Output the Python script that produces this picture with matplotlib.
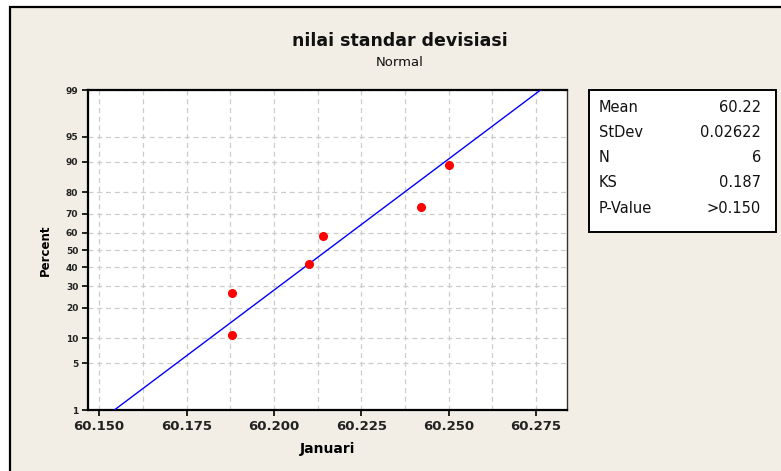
from statistics import NormalDist

import matplotlib
matplotlib.use("Agg")
import matplotlib.pyplot as plt
import numpy as np
from matplotlib.patches import Rectangle

# data
januari = [60.188, 60.188, 60.210, 60.214, 60.242, 60.250]
percent = [10.9, 26.6, 42.2, 57.8, 73.4, 89.1]

y_ticks = [1, 5, 10, 20, 30, 40, 50, 60, 70, 80, 90, 95, 99]
x_ticks = [60.150, 60.175, 60.200, 60.225, 60.250, 60.275]
x_grid = [60.150, 60.1625, 60.175, 60.1875, 60.200, 60.2125, 60.225, 60.2375, 60.250, 60.2625, 60.275]

stat_labels = ["Mean", "StDev", "N", "KS", "P-Value"]
stat_values = ["60.22", "0.02622", "6", "0.187", ">0.150"]

BG = "#F2EEE6"
W, H = 781, 471

nd = NormalDist()


def z(p):
    return np.array([nd.inv_cdf(v / 100.0) for v in np.atleast_1d(p)])


fig = plt.figure(figsize=(W / 100, H / 100), dpi=100)
fig.patch.set_facecolor("white")
fig.patches.append(Rectangle((10 / W, -0.05), 1.2, (H - 7) / H + 0.05,
                             transform=fig.transFigure, facecolor=BG,
                             edgecolor="black", lw=1.6, zorder=-10))

ax = fig.add_axes([88 / W, (H - 410) / H, (567 - 88) / W, 320 / H])
ax.set_facecolor("white")

# fitted normal line
mean = np.mean(januari)
sd = np.std(januari, ddof=1)
zz = z([1.0, 99.0])
ax.plot(mean + sd * zz, zz, color="#0000FF", lw=1.0, zorder=3)

ax.plot(januari, z(percent), "o", color="#FF0000", ms=5.5, mec="#FF0000", zorder=4)

ax.set_xticks(x_ticks)
ax.set_xticklabels([f"{v:.3f}" for v in x_ticks], fontsize=9.5, fontweight="bold", color="#222222")
ax.set_xticks(x_grid, minor=True)
ax.set_yticks(z(y_ticks))
ax.set_yticklabels([str(v) for v in y_ticks], fontsize=6.5, fontweight="bold", color="#222222")

ax.set_xlim(60.1468, 60.2839)
ax.set_ylim(zz[0], zz[1])

ax.grid(True, which="both", axis="x", color="#CCCCCC", ls=(0, (4, 3)), lw=0.9)
ax.grid(True, which="major", axis="y", color="#CCCCCC", ls=(0, (4, 3)), lw=0.9)
ax.tick_params(axis="x", which="minor", length=0)
ax.tick_params(axis="both", which="major", direction="out", length=4, width=1.2, pad=3, color="black")

for side in ["left", "bottom", "top"]:
    ax.spines[side].set_linewidth(1.6)
ax.spines["right"].set_linewidth(1.0)
ax.spines["right"].set_color("#333333")

ax.set_xlabel("Januari", fontsize=10, fontweight="bold", labelpad=7)
ax.set_ylabel("Percent", fontsize=8.5, fontweight="bold", labelpad=10)

fig.text(400 / W, 1 - 41 / H, "nilai standar devisiasi", ha="center", va="center",
         fontsize=12.5, fontweight="bold", color="#111111")
fig.text(400 / W, 1 - 62 / H, "Normal", ha="center", va="center", fontsize=9.5, color="#111111")

# stats box
fig.patches.append(Rectangle((589 / W, 1 - 232 / H), (776 - 589) / W, (232 - 90) / H,
                             transform=fig.transFigure, facecolor="white",
                             edgecolor="black", lw=1.4, zorder=1))
for i, (lab, val) in enumerate(zip(stat_labels, stat_values)):
    yy = 1 - (107 + i * 25.3) / H
    fig.text(599 / W, yy, lab, ha="left", va="center", fontsize=10.5, color="#111111")
    fig.text(761 / W, yy, val, ha="right", va="center", fontsize=10.5, color="#111111")

fig.savefig("out.png", dpi=100, facecolor=fig.get_facecolor())
